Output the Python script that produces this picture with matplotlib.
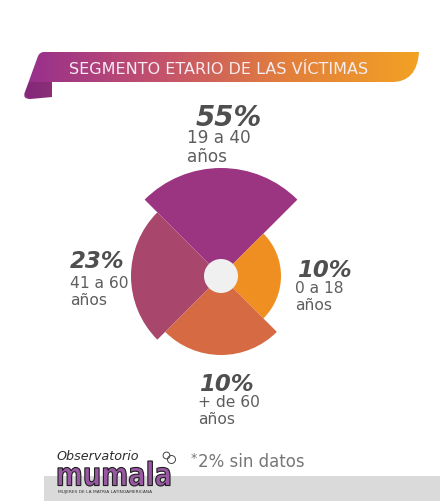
import numpy as np
import matplotlib
matplotlib.use("Agg")
import matplotlib.pyplot as plt
from matplotlib.path import Path
from matplotlib.patches import PathPatch, Polygon, Rectangle
from matplotlib.colors import LinearSegmentedColormap
from matplotlib.textpath import TextPath
from matplotlib.font_manager import FontProperties
from matplotlib.transforms import Affine2D

# datos
titulo = "SEGMENTO ETARIO DE LAS VÍCTIMAS"
porcentajes = ["55%", "10%", "10%", "23%"]
rangos = ["19 a 40", "0 a 18", "+ de 60", "41 a 60"]
radios = [108, 60, 79, 90]          # largo de cada pétalo
angulos = [90, 0, 270, 180]         # dirección de cada pétalo en grados
colores = ["#9c3581", "#ef8f22", "#d56a43", "#a8466c"]
nota = "2% sin datos"

W, H = 440, 502
fig = plt.figure(figsize=(W / 100, H / 100), dpi=100)
fig.patch.set_facecolor("white")

# eje de fondo en pixeles
ax = fig.add_axes([0, 0, 1, 1])
ax.set_xlim(0, W)
ax.set_ylim(H, 0)
ax.axis("off")

# cinta del título con degradado
verts = [(44, 53), (419, 53), (417, 83), (392, 83), (52, 83), (52, 98), (30, 100),
         (22, 100), (25, 93), (38, 57), (40, 53), (44, 53), (44, 53)]
codes = [Path.MOVETO, Path.LINETO, Path.CURVE3, Path.CURVE3, Path.LINETO, Path.LINETO,
         Path.LINETO, Path.CURVE3, Path.CURVE3, Path.LINETO, Path.CURVE3, Path.CURVE3,
         Path.CLOSEPOLY]
cinta = PathPatch(Path(verts, codes), fc="none", ec="none")
ax.add_patch(cinta)
cmap = LinearSegmentedColormap.from_list("cinta", ["#962e8e", "#c2506e", "#e27f3c", "#f2a224"])
grad = ax.imshow(np.linspace(0, 1, 256).reshape(1, -1), cmap=cmap, aspect="auto",
                 extent=[22, 420, 101, 52], zorder=1)
grad.set_clip_path(cinta)
ax.add_patch(Polygon([(52, 83), (52, 98), (30, 100), (24, 95), (29, 83)],
                     closed=True, fc="black", alpha=0.13, ec="none", zorder=2))
ax.text(219, 70, titulo, color="#f7ecf2", fontsize=11.5, ha="center", va="center",
        family="DejaVu Sans", zorder=3)

# gráfico polar
cx, cy, R = 221, 277, 110
pax = fig.add_axes([(cx - R) / W, (H - cy - R) / H, 2 * R / W, 2 * R / H], projection="polar")
pax.bar(np.deg2rad(angulos), radios, width=np.pi / 2, color=colores, edgecolor="none")
pax.bar(0, 17, width=2 * np.pi, color="#f0f0f0", edgecolor="none")
pax.set_ylim(0, R)
pax.axis("off")

# etiquetas: (x porcentaje, x rango, línea base porcentaje, rango, "años")
pos = [(196, 187, 126, 143, 162), (297, 295, 277, 293, 310),
       (199, 198, 391, 407, 424), (70, 70, 268, 288, 305)]
for i, (p, r) in enumerate(zip(porcentajes, rangos)):
    xp, xr, yp, yr, ya = pos[i]
    tp_size = 20 if i == 0 else 16.5
    tam = 12.2 if i == 0 else 11.2
    ax.text(xp, yp, p, fontsize=tp_size, fontweight="bold", style="italic", color="#4f4f4f",
            family="DejaVu Sans", ha="left", va="baseline")
    ax.text(xr, yr, r, fontsize=tam, color="#5e5e5e", family="DejaVu Sans",
            ha="left", va="baseline")
    ax.text(xr, ya, "años", fontsize=tam, color="#5e5e5e", family="DejaVu Sans",
            ha="left", va="baseline")

# pie: franja gris
ax.add_patch(Rectangle((44, 477), W - 44, 25, fc="#dadada", ec="none", zorder=1))

# logo
ax.text(56, 460, "Observatorio", fontsize=9.2, style="italic", color="#2b2b2b",
        family="DejaVu Sans", ha="left", va="baseline", zorder=4)
tp = TextPath((0, 0), "mumala", size=1, prop=FontProperties(family="DejaVu Sans", weight="bold"))
bb = tp.get_extents()
tr = Affine2D().translate(-bb.x0, -bb.y0).scale(112 / bb.width, -25 / bb.height).translate(58, 487)
ax.add_patch(PathPatch(tr.transform_path(tp), fc="#9a58a4", ec="#1e1e1e", lw=0.8, zorder=4))
ax.text(58, 492, "MUJERES DE LA MATRIA LATINOAMERICANA", fontsize=3.2, color="#333333",
        family="DejaVu Sans", ha="left", va="center", zorder=4)
# mariposa
for dx, dy, rr in [(-2.5, -2.5, 3.4), (2.5, 1.5, 4.0)]:
    ax.add_patch(plt.Circle((169 + dx, 459 + dy), rr, fc="none", ec="#444444", lw=0.7, zorder=4))

ax.text(191, 462, "*", fontsize=9, color="#777777", family="DejaVu Sans", ha="left", va="baseline")
ax.text(198, 467, nota, fontsize=12, color="#777777", family="DejaVu Sans",
        ha="left", va="baseline")

fig.savefig("out.png", dpi=100, facecolor="white")
